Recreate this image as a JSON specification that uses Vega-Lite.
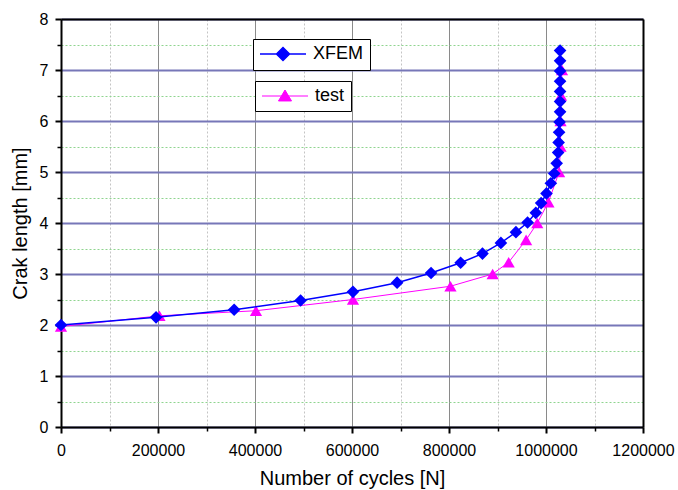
{
  "$schema": "https://vega.github.io/schema/vega-lite/v6.json",
  "width": 582,
  "height": 408,
  "autosize": {"type": "none"},
  "padding": {"left": 61, "top": 19, "right": 35, "bottom": 63},
  "background": "white",
  "config": {
    "view": {"stroke": null},
    "font": "Liberation Sans",
    "axis": {"labelFont": "Liberation Sans", "titleFont": "Liberation Sans", "labelColor": "black", "titleColor": "black"}
  },
  "data": {
    "values": [
      {"series": "XFEM", "N": 0, "a": 2.0},
      {"series": "XFEM", "N": 196000, "a": 2.15},
      {"series": "XFEM", "N": 357000, "a": 2.3},
      {"series": "XFEM", "N": 494000, "a": 2.48},
      {"series": "XFEM", "N": 602000, "a": 2.65},
      {"series": "XFEM", "N": 693000, "a": 2.83},
      {"series": "XFEM", "N": 763000, "a": 3.02},
      {"series": "XFEM", "N": 824000, "a": 3.22},
      {"series": "XFEM", "N": 869000, "a": 3.4},
      {"series": "XFEM", "N": 907000, "a": 3.61},
      {"series": "XFEM", "N": 938000, "a": 3.82},
      {"series": "XFEM", "N": 962000, "a": 4.01},
      {"series": "XFEM", "N": 979000, "a": 4.2},
      {"series": "XFEM", "N": 990000, "a": 4.39},
      {"series": "XFEM", "N": 1001000, "a": 4.58},
      {"series": "XFEM", "N": 1010000, "a": 4.78},
      {"series": "XFEM", "N": 1017000, "a": 4.97},
      {"series": "XFEM", "N": 1022000, "a": 5.17},
      {"series": "XFEM", "N": 1025000, "a": 5.38},
      {"series": "XFEM", "N": 1026000, "a": 5.58},
      {"series": "XFEM", "N": 1027000, "a": 5.78},
      {"series": "XFEM", "N": 1028000, "a": 5.98},
      {"series": "XFEM", "N": 1029000, "a": 6.18},
      {"series": "XFEM", "N": 1029000, "a": 6.38},
      {"series": "XFEM", "N": 1029000, "a": 6.58},
      {"series": "XFEM", "N": 1029000, "a": 6.78},
      {"series": "XFEM", "N": 1029000, "a": 6.98},
      {"series": "XFEM", "N": 1029000, "a": 7.18},
      {"series": "XFEM", "N": 1029000, "a": 7.38},
      {"series": "test", "N": 0, "a": 1.97},
      {"series": "test", "N": 203000, "a": 2.18},
      {"series": "test", "N": 402000, "a": 2.28},
      {"series": "test", "N": 602000, "a": 2.5},
      {"series": "test", "N": 803000, "a": 2.76},
      {"series": "test", "N": 890000, "a": 3.0},
      {"series": "test", "N": 923000, "a": 3.23},
      {"series": "test", "N": 959000, "a": 3.67},
      {"series": "test", "N": 982000, "a": 4.0},
      {"series": "test", "N": 1005000, "a": 4.41},
      {"series": "test", "N": 1027000, "a": 5.0},
      {"series": "test", "N": 1030000, "a": 5.5},
      {"series": "test", "N": 1030000, "a": 6.0},
      {"series": "test", "N": 1031000, "a": 6.5},
      {"series": "test", "N": 1033000, "a": 7.0}
    ]
  },
  "layer": [
    {
      "mark": {"type": "point", "opacity": 0},
      "encoding": {
        "x": {"field": "N", "type": "quantitative", "scale": {"domain": [0, 1200000], "nice": false},
          "axis": {"orient": "bottom", "values": [100000, 300000, 500000, 700000, 900000, 1100000], "grid": true, "gridColor": "#c4c4c4", "gridDash": [2, 2], "gridWidth": 1, "labels": false, "ticks": true, "tickSize": 4, "tickWidth": 1.5, "tickColor": "black", "domain": false, "title": null}},
        "y": {"field": "a", "type": "quantitative", "scale": {"domain": [0, 8], "nice": false},
          "axis": {"orient": "left", "values": [0.5, 1.5, 2.5, 3.5, 4.5, 5.5, 6.5, 7.5], "grid": true, "gridColor": "#8fd48f", "gridDash": [2, 2], "gridWidth": 1, "labels": false, "ticks": true, "tickSize": 4, "tickWidth": 1.5, "tickColor": "black", "domain": false, "title": null}}
      }
    },
    {
      "mark": {"type": "point", "opacity": 0},
      "encoding": {
        "x": {"field": "N", "type": "quantitative", "scale": {"domain": [0, 1200000], "nice": false},
          "axis": {"orient": "top", "grid": false, "labels": false, "ticks": false, "domain": true, "domainColor": "black", "domainWidth": 2, "title": null, "zindex": 1}},
        "y": {"field": "a", "type": "quantitative", "scale": {"domain": [0, 8], "nice": false},
          "axis": {"orient": "right", "grid": false, "labels": false, "ticks": false, "domain": true, "domainColor": "black", "domainWidth": 2, "title": null, "zindex": 1}}
      }
    },
    {
      "transform": [{"filter": "datum.series === 'test'"}],
      "encoding": {
        "x": {"field": "N", "type": "quantitative", "scale": {"domain": [0, 1200000], "nice": false},
          "axis": {"orient": "bottom", "values": [0, 200000, 400000, 600000, 800000, 1000000, 1200000], "format": "d", "grid": true, "gridColor": "#8a8a8a", "gridWidth": 1, "tickSize": 6, "tickWidth": 2, "tickColor": "black", "domainColor": "black", "domainWidth": 2, "labelFontSize": 16, "labelPadding": 9, "labelFlush": false, "title": "Number of cycles [N]", "titleFontSize": 20, "titleFontWeight": "normal", "titlePadding": 10}},
        "y": {"field": "a", "type": "quantitative", "scale": {"domain": [0, 8], "nice": false},
          "axis": {"orient": "left", "values": [0, 1, 2, 3, 4, 5, 6, 7, 8], "grid": true, "gridColor": "#7777b8", "gridWidth": 2, "tickSize": 6, "tickWidth": 2, "tickColor": "black", "domainColor": "black", "domainWidth": 2, "labelFontSize": 16, "labelPadding": 7, "labelFlush": false, "title": "Crak length [mm]", "titleFontSize": 20, "titleFontWeight": "normal", "titlePadding": 9}},
        "order": {"field": "a", "type": "quantitative"}
      },
      "layer": [
        {"mark": {"type": "line", "color": "#ff00ff", "strokeWidth": 1}},
        {
          "mark": {"type": "point", "shape": "triangle-up", "filled": true, "size": 150, "opacity": 1},
          "encoding": {
            "color": {"field": "series", "type": "nominal", "scale": {"domain": ["test"], "range": ["#ff00ff"]},
              "legend": {"title": null, "orient": "none", "legendX": 194, "legendY": 62, "symbolType": "M-1,0L4.75,0M1.06,0.62L1.875,-0.75L2.69,0.62Z", "symbolSize": 256, "labelOffset": 36, "labelFontSize": 18, "labelFont": "Liberation Sans", "labelColor": "black", "strokeColor": "black", "fillColor": "white", "padding": 6, "cornerRadius": 0, "symbolOpacity": 1,
                "encode": {"symbols": {"update": {"fill": {"value": "#ff00ff"}, "stroke": {"value": "#ff00ff"}, "strokeWidth": {"value": 1}, "shape": {"value": "M-1,0L4.75,0M1.06,0.62L1.875,-0.75L2.69,0.62Z"}, "size": {"value": 256}, "opacity": {"value": 1}}}}}}
          }
        }
      ]
    },
    {
      "transform": [{"filter": "datum.series === 'XFEM'"}],
      "encoding": {
        "x": {"field": "N", "type": "quantitative", "scale": {"domain": [0, 1200000], "nice": false}, "axis": null},
        "y": {"field": "a", "type": "quantitative", "scale": {"domain": [0, 8], "nice": false}, "axis": null},
        "order": {"field": "a", "type": "quantitative"}
      },
      "layer": [
        {"mark": {"type": "line", "color": "#0000ff", "strokeWidth": 1.5}},
        {
          "mark": {"type": "point", "shape": "diamond", "filled": true, "size": 160, "opacity": 1},
          "encoding": {
            "color": {"field": "series", "type": "nominal", "scale": {"domain": ["XFEM"], "range": ["#0000ff"]},
              "legend": {"title": null, "orient": "none", "legendX": 192, "legendY": 20, "symbolType": "M-1,0L4.75,0M1.06,0L1.875,-0.81L2.69,0L1.875,0.81Z", "symbolSize": 256, "labelOffset": 36, "labelFontSize": 18, "labelFont": "Liberation Sans", "labelColor": "black", "strokeColor": "black", "fillColor": "white", "padding": 6, "cornerRadius": 0, "symbolOpacity": 1,
                "encode": {"symbols": {"update": {"fill": {"value": "#0000ff"}, "stroke": {"value": "#0000ff"}, "strokeWidth": {"value": 1.5}, "shape": {"value": "M-1,0L4.75,0M1.06,0L1.875,-0.81L2.69,0L1.875,0.81Z"}, "size": {"value": 256}, "opacity": {"value": 1}}}}}}
          }
        }
      ]
    }
  ],
  "resolve": {"axis": {"x": "independent", "y": "independent"}, "scale": {"color": "independent"}}
}
